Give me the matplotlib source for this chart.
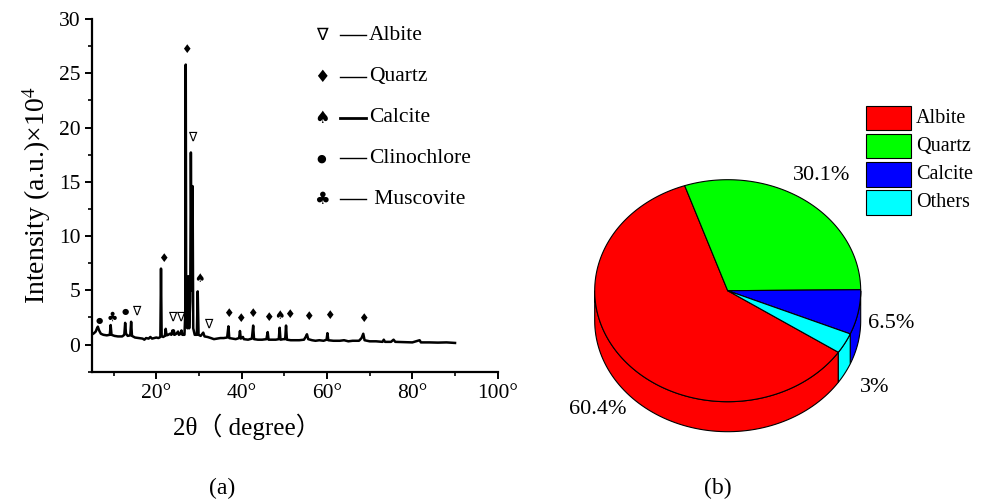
import numpy as np
import matplotlib
matplotlib.use("Agg")
import matplotlib.pyplot as plt
from matplotlib.patches import Polygon, Rectangle
from matplotlib.lines import Line2D
from matplotlib.ticker import MultipleLocator, FixedLocator, FuncFormatter

plt.rcParams['font.family'] = ['Liberation Serif', 'Noto Sans CJK SC', 'DejaVu Sans']
plt.rcParams['mathtext.fontset'] = 'stix'

# XRD pattern (2theta in degrees, intensity x10^4)
two_theta = [5.0, 5.4, 5.8, 6.1, 6.3, 6.6, 7.0, 7.6, 8.4, 9.1, 9.3, 9.5, 10.2, 11.0,
             12.0, 12.5, 12.7, 12.9, 13.3, 13.9, 14.1, 14.3, 15.0, 16.0, 16.8, 17.2,
             17.6, 18.2, 18.6, 19.0, 19.5, 20.0, 20.5, 20.95, 21.1, 21.25, 21.6, 22.0,
             22.2, 22.4, 22.8, 23.2, 23.5, 23.8, 24.0, 24.1, 24.3, 24.7, 25.1, 25.3,
             25.7, 25.9, 26.1, 26.6, 26.8, 26.9, 27.0, 27.3, 27.5, 27.7, 27.95, 28.1,
             28.3, 28.5, 28.65, 29.0, 29.5, 29.7, 29.9, 30.4, 31.0, 31.3, 32.0, 32.8,
             33.5, 34.2, 35.0, 35.8, 36.6, 36.9, 37.1, 37.8, 38.6, 39.4, 39.6, 39.8,
             40.3, 40.5, 41.5, 42.4, 42.7, 42.9, 43.8, 44.8, 45.8, 46.1, 46.3, 47.2,
             48.0, 48.7, 48.9, 49.1, 49.8, 50.2, 50.4, 50.6, 51.5, 52.5, 53.5, 54.6,
             55.0, 55.3, 55.6, 56.5, 57.3, 58.2, 59.2, 59.9, 60.1, 60.3, 61.5, 63.0,
             64.0, 65.0, 66.0, 67.5, 68.1, 68.5, 68.8, 70.0, 71.5, 73.0, 73.3, 73.6,
             75.0, 75.6, 76.0, 78.0, 80.0, 81.7, 82.0, 84.0, 86.0, 88.0, 90.0]
intensity = [0.95, 1.05, 1.2, 1.5, 1.65, 1.3, 1.0, 0.9, 0.85, 0.9, 1.8, 0.9, 0.8, 0.75,
             0.75, 0.9, 2.0, 1.0, 0.8, 0.85, 2.1, 0.8, 0.65, 0.6, 0.55, 0.45,
             0.6, 0.55, 0.7, 0.55, 0.6, 0.65, 0.6, 0.7, 7.0, 0.8, 0.7, 0.8,
             1.45, 0.85, 0.9, 1.0, 0.9, 1.3, 0.95, 1.3, 0.9, 1.0, 1.2, 0.9,
             1.0, 1.3, 0.9, 0.9, 3.0, 25.8, 3.0, 1.5, 6.3, 1.5, 4.0, 17.7,
             5.0, 14.6, 1.5, 0.9, 0.9, 4.9, 0.9, 0.8, 1.1, 0.75, 0.7, 0.6,
             0.5, 0.55, 0.6, 0.6, 0.65, 1.68, 0.6, 0.55, 0.5, 0.6, 1.25, 0.55,
             0.7, 0.5, 0.45, 0.55, 1.75, 0.5, 0.45, 0.45, 0.5, 1.15, 0.45, 0.45,
             0.45, 0.5, 1.55, 0.45, 0.5, 0.5, 1.75, 0.45, 0.4, 0.4, 0.4, 0.45,
             0.7, 0.95, 0.5, 0.4, 0.35, 0.4, 0.35, 0.45, 1.05, 0.4, 0.35, 0.35,
             0.4, 0.3, 0.35, 0.35, 0.6, 1.0, 0.4, 0.3, 0.3, 0.25, 0.45, 0.25,
             0.25, 0.45, 0.25, 0.22, 0.2, 0.4, 0.2, 0.2, 0.18, 0.2, 0.15]

# phase markers above the peaks
peak_x = [6.7, 9.6, 12.8, 15.3, 21.7, 23.7, 25.6, 27.1, 28.5, 30.2, 32.2, 36.9,
          39.7, 42.6, 46.3, 48.9, 51.1, 55.7, 60.5, 68.5]
peak_y = [2.24, 2.5, 3.07, 3.07, 7.96, 2.5, 2.5, 27.2, 19.1, 6.06, 1.85, 2.83,
          2.43, 2.83, 2.46, 2.7, 2.8, 2.58, 2.65, 2.37]
peak_sym = ['●', '♣', '●', '∇', '♦', '∇', '∇', '♦', '∇', '♠', '∇', '♦',
            '♦', '♦', '♦', '♠', '♦', '♦', '♦', '♦']

phase_sym = ['∇', '♦', '♠', '●', '♣']
phase_names = ['Albite', 'Quartz', 'Calcite', 'Clinochlore', ' Muscovite']

# composition pie
pie_labels = ['Albite', 'Quartz', 'Calcite', 'Others']
pie_values = [60.4, 30.1, 6.5, 3.0]
pie_pct = ['60.4%', '30.1%', '6.5%', '3%']
pie_colors = ['#ff0000', '#00ff00', '#0000ff', '#00ffff']

W, H = 987, 503
fig = plt.figure(figsize=(W / 100, H / 100), dpi=100)


def fx(x):
    return x / W


def fy(y):
    return 1 - y / H


# ---------------- (a) XRD ----------------
ax = fig.add_axes([fx(92.3), fy(371.7), fx(497.7 - 92.3), (371.7 - 19) / H])
ax.plot(two_theta, intensity, color='black', lw=1.8)
sym_size = {'●': 6, '∇': 9, '♦': 8.5, '♠': 8.5, '♣': 9}
for x, y, s in zip(peak_x, peak_y, peak_sym):
    ax.text(x, y, s, ha='center', va='center', fontsize=sym_size[s], family='DejaVu Sans')
ax.set_xlim(5, 100)
ax.set_ylim(-2.5, 30)
ax.xaxis.set_major_locator(FixedLocator([20, 40, 60, 80, 100]))
ax.xaxis.set_minor_locator(FixedLocator([10, 30, 50, 70, 90]))
ax.xaxis.set_major_formatter(FuncFormatter(lambda v, p: '%d°' % v))
ax.yaxis.set_major_locator(MultipleLocator(5))
ax.yaxis.set_minor_locator(MultipleLocator(2.5))
for side in ['top', 'right']:
    ax.spines[side].set_visible(False)
for side in ['left', 'bottom']:
    ax.spines[side].set_linewidth(1.6)
ax.tick_params(which='major', direction='out', length=5, width=1.4, labelsize=15.5)
ax.tick_params(which='minor', direction='out', length=3, width=1.2)
ax.set_ylabel('Intensity (a.u.)×10$^4$', fontsize=20, labelpad=4)
fig.text(fx(247), fy(427), '2θ（ degree）', ha='center', va='center', fontsize=18)

rows = [35, 76.7, 117.7, 158.3, 199.3]
for i, (s, name) in enumerate(zip(phase_sym, phase_names)):
    y = rows[i]
    fig.text(fx(321.7), fy(y), s, ha='center', va='center',
             fontsize=8 if s == '●' else 12.5, family='DejaVu Sans')
    lw = 2.0 if name == 'Calcite' else 1.0
    fig.add_artist(Line2D([fx(340), fx(366)], [fy(y), fy(y)], color='black', lw=lw))
    fig.text(fx(369), fy(y), name, ha='left', va='center', fontsize=15.5)

# ---------------- (b) pie ----------------
R = 133.0
k = 111.0 / R
d = 30.0 / R
cx, cy = 727.7, 290.7
left, right, top, bottom = 560, 987, 90, 460
ax2 = fig.add_axes([fx(left), fy(bottom), fx(right - left), (bottom - top) / H])
ax2.set_xlim(-(cx - left) / R, (right - cx) / R)
ax2.set_ylim(-(bottom - cy) / R, (cy - top) / R)
ax2.axis('off')

start = -33.7
theta = [start]
for v in pie_values:
    theta.append(theta[-1] - v * 3.6)

# sides first (only the front half of the disc is visible)
for i, c in enumerate(pie_colors):
    hi, lo = theta[i], theta[i + 1]
    for shift in (-720, -360, 0, 360, 720):
        a = max(lo + shift, 180)
        b = min(hi + shift, 360)
        if b <= a:
            continue
        t = np.radians(np.linspace(a, b, 80))
        xs = np.cos(t)
        ys = k * np.sin(t)
        pts = np.concatenate([np.column_stack([xs, ys]),
                              np.column_stack([xs[::-1], ys[::-1] - d])])
        ax2.add_patch(Polygon(pts, closed=True, facecolor=c, edgecolor='black', lw=0.8))

# tops
for i, c in enumerate(pie_colors):
    hi, lo = theta[i], theta[i + 1]
    t = np.radians(np.linspace(lo, hi, 200))
    pts = np.vstack([[0, 0], np.column_stack([np.cos(t), k * np.sin(t)])])
    ax2.add_patch(Polygon(pts, closed=True, facecolor=c, edgecolor='black', lw=0.8))

pct_pos = [(598, 409), (822, 175), (891, 324), (875, 387)]
for (px, py), s in zip(pct_pos, pie_pct):
    fig.text(fx(px), fy(py), s, ha='center', va='center', fontsize=16)

box_tops = [105.7, 133.7, 162, 190]
for y, lab, c in zip(box_tops, pie_labels, pie_colors):
    fig.add_artist(Rectangle((fx(866), fy(y + 24.5)), fx(45), 24.5 / H,
                             facecolor=c, edgecolor='black', lw=0.8))
    fig.text(fx(916), fy(y + 12.5), lab, ha='left', va='center', fontsize=14.5)

fig.text(fx(222.5), fy(488), '(a)', ha='center', va='center', fontsize=17)
fig.text(fx(718), fy(488), '(b)', ha='center', va='center', fontsize=17)

fig.savefig('out.png', dpi=100)
